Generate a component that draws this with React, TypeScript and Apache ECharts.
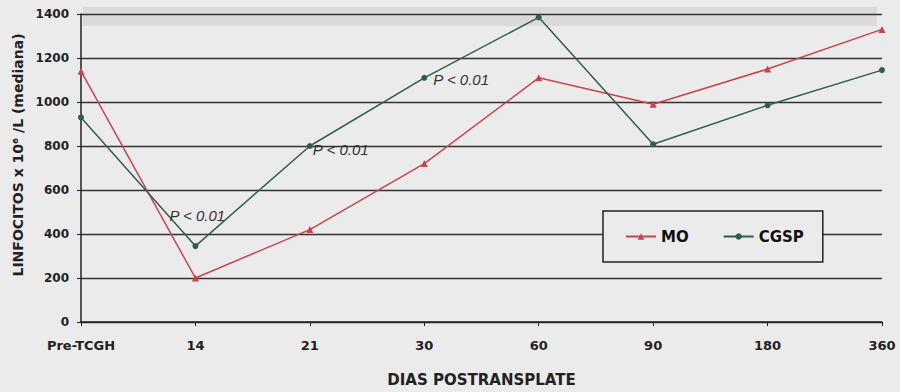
import React, { useEffect, useRef } from "react";
import * as echarts from "echarts";

const categories = ["Pre-TCGH", "14", "21", "30", "60", "90", "180", "360"];
const moValues = [1140, 200, 420, 720, 1110, 990, 1150, 1330];
const cgspValues = [930, 345, 800, 1110, 1385, 808, 985, 1145];
const pLabels = ["", "P < 0.01", "P < 0.01", "P < 0.01", "", "", "", ""];
const yTicks = { min: 0, max: 1400, interval: 200 };

export default function App() {
  const ref = useRef<HTMLDivElement>(null);
  useEffect(() => {
    if (!ref.current) return;
    const chart = echarts.init(ref.current, null, { renderer: "svg" });
    const font = "'DejaVu Sans', 'Liberation Sans', sans-serif";
    const pFont = "'Liberation Sans', Arial, sans-serif";
    const labelPos: any[] = [null, [-34, -31], [-5, 3], [1, 2], null, null, null, null];
    const cgspData = cgspValues.map((v, i) =>
      pLabels[i]
        ? {
            value: v,
            label: {
              show: true,
              formatter: pLabels[i],
              position: "right",
              offset: labelPos[i],
              fontStyle: "italic",
              fontSize: 15,
              color: "#333",
              fontFamily: pFont,
            },
          }
        : v
    );
    chart.setOption({
      animation: false,
      backgroundColor: "#ebebeb",
      textStyle: { fontFamily: font },
      grid: { left: 81, top: 14, right: 18, bottom: 68 },
      graphic: [
        {
          type: "rect",
          shape: { x: 83, y: 7, width: 794, height: 19 },
          style: { fill: "rgba(150,150,150,0.2)" },
          silent: true,
        },
      ],
      legend: {
        data: ["MO", "CGSP"],
        left: 603,
        top: 211,
        width: 220,
        padding: [18, 19, 18, 22],
        itemGap: 34,
        itemWidth: 30,
        itemHeight: 8,
        backgroundColor: "#ebebeb",
        borderColor: "#222",
        borderWidth: 1.5,
        textStyle: { fontWeight: "bold", fontSize: 15, color: "#111", fontFamily: font },
      },
      xAxis: {
        type: "category",
        data: categories,
        boundaryGap: false,
        name: "DIAS POSTRANSPLATE",
        nameLocation: "middle",
        nameGap: 50,
        nameTextStyle: { fontWeight: "bold", fontSize: 15, color: "#222", fontFamily: font },
        axisLine: { lineStyle: { color: "#222", width: 1.5 } },
        axisTick: { show: true, length: 4, alignWithLabel: true, lineStyle: { color: "#222" } },
        axisLabel: { margin: 17, fontWeight: "bold", fontSize: 13, color: "#222", fontFamily: font },
      },
      yAxis: {
        type: "value",
        min: yTicks.min,
        max: yTicks.max,
        interval: yTicks.interval,
        name: "LINFOCITOS x 10\u2076 /L (mediana)",
        nameLocation: "middle",
        nameGap: 50,
        nameTextStyle: {
          fontWeight: "bold",
          fontSize: 14,
          color: "#222",
          fontFamily: font,
          padding: [0, 0, 0, 26],
        },
        axisLine: { show: true, lineStyle: { color: "#222", width: 1.5 } },
        axisTick: { show: true, length: 4, lineStyle: { color: "#222" } },
        axisLabel: {
          margin: 12,
          fontWeight: "bold",
          fontSize: 12,
          color: "#222",
          fontFamily: font,
          formatter: (v: number) => String(v),
        },
        splitLine: { lineStyle: { color: "#333", width: 1.3 } },
      },
      series: [
        {
          name: "MO",
          type: "line",
          data: moValues,
          symbol: "triangle",
          symbolSize: 7,
          color: "#c9434b",
          lineStyle: { width: 1.5, color: "#c9434b" },
          itemStyle: { color: "#c9434b" },
          z: 3,
        },
        {
          name: "CGSP",
          type: "line",
          data: cgspData,
          symbol: "circle",
          symbolSize: 6,
          color: "#2f5e50",
          lineStyle: { width: 1.5, color: "#2f5e50" },
          itemStyle: { color: "#2f5e50" },
          z: 4,
        },
      ],
    });
    return () => chart.dispose();
  }, []);
  return (
    <div
      ref={ref}
      style={{ position: "fixed", left: 0, top: 0, width: 900, height: 392 }}
    />
  );
}
